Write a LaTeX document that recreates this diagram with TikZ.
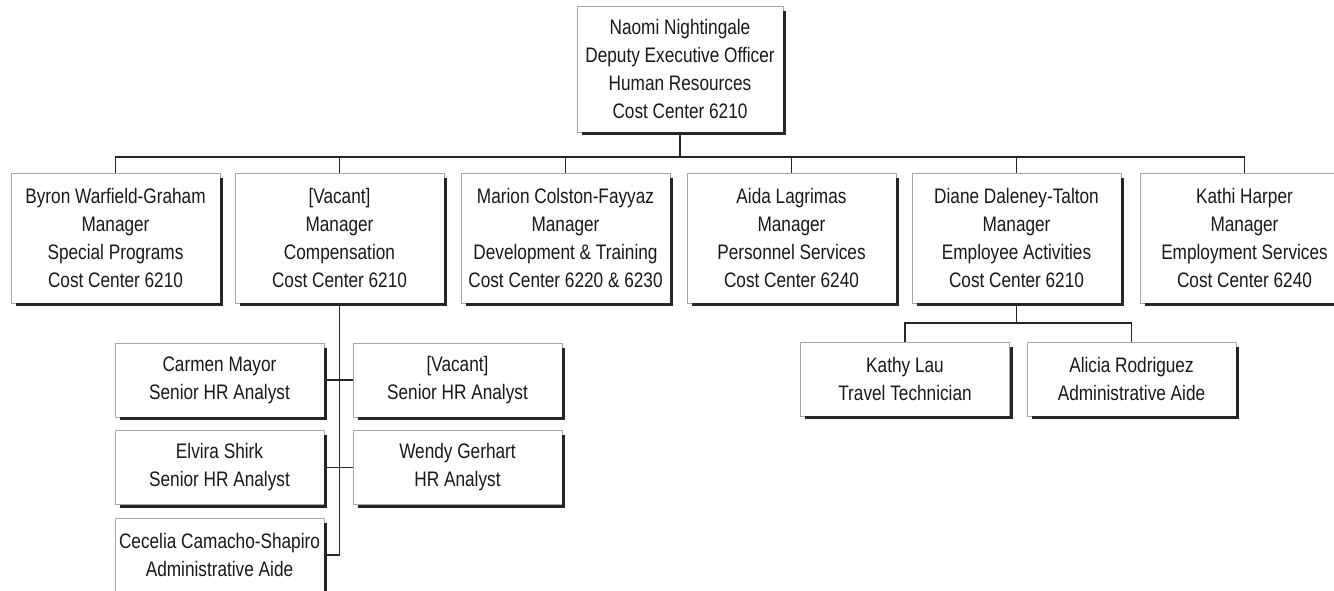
\documentclass[tikz,border=0pt]{standalone}
\usepackage{fontspec}
\setmainfont{Liberation Sans}[FakeStretch=0.82]
\newcommand\boxshadow[1]{\draw[shade] ([xshift=1.5pt,yshift=-5pt]#1.north east) -- ([xshift=1.5pt,yshift=-1.5pt]#1.south east) -- ([xshift=5pt,yshift=-1.5pt]#1.south west);}
\tikzset{
  box/.style={draw=black!35, line width=0.6pt, fill=white, align=center, inner sep=0pt,
    minimum width=209pt, font=\fontsize{21}{28}\selectfont, text=black!90},
  topbox/.style={box, minimum width=206pt, minimum height=126pt},
  mgr/.style={box, minimum height=130pt},
  sub/.style={box, minimum height=74pt},
  link/.style={draw=black!85, line width=1.5pt},
  shade/.style={draw=black!85, line width=3pt},
}
\begin{document}
\begin{tikzpicture}[x=1pt,y=-1pt]
\useasboundingbox (0,0) rectangle (1334,590);
\clip (0,0) rectangle (1334,590);
\fill[white] (0,0) rectangle (1334,590);

\node[topbox] (top) at (680,69) {Naomi Nightingale\\Deputy Executive Officer\\Human Resources\\Cost Center 6210};

\node[mgr] (b1) at (115.5,238) {Byron Warfield-Graham\\Manager\\Special Programs\\Cost Center 6210};
\node[mgr] (b2) at (339.5,238) {[Vacant]\\Manager\\Compensation\\Cost Center 6210};
\node[mgr] (b3) at (565.5,238) {Marion Colston-Fayyaz\\Manager\\Development \& Training\\Cost Center 6220 \& 6230};
\node[mgr] (b4) at (791.5,238) {Aida Lagrimas\\Manager\\Personnel Services\\Cost Center 6240};
\node[mgr] (b5) at (1016.5,238) {Diane Daleney-Talton\\Manager\\Employee Activities\\Cost Center 6210};
\node[mgr] (b6) at (1244.5,238) {Kathi Harper\\Manager\\Employment Services\\Cost Center 6240};

\node[sub] (carmen) at (219.5,380) {Carmen Mayor\\Senior HR Analyst};
\node[sub] (vacsr) at (457.5,380) {[Vacant]\\Senior HR Analyst};
\node[sub] (elvira) at (219.5,467.5) {Elvira Shirk\\Senior HR Analyst};
\node[sub] (wendy) at (457.5,467.5) {Wendy Gerhart\\HR Analyst};
\node[sub] (cecelia) at (219.5,555) {Cecelia Camacho-Shapiro\\Administrative Aide};

\node[sub] (kathy) at (905,379) {Kathy Lau\\Travel Technician};
\node[sub] (alicia) at (1131.5,379) {Alicia Rodriguez\\Administrative Aide};

\foreach \n in {top,b1,b2,b3,b4,b5,b6,carmen,vacsr,elvira,wendy,cecelia,kathy,alicia}{\boxshadow{\n}}

% connectors
\coordinate (bus) at (680,157);
\coordinate (eb) at (1018,323);
\draw[link] (top.south) -- (bus);
\foreach \n in {b1,b2,b3,b4,b5,b6}{\draw[link] (bus) -| (\n.north);}
\draw[link] (b2.south) |- (cecelia.east);
\draw[link] (carmen.east) -- (vacsr.west);
\draw[link] (elvira.east) -- (wendy.west);
\draw[link] (b5.south) -- (b5.south |- eb);
\draw[link] (kathy.north) |- (eb) -| (alicia.north);
\end{tikzpicture}
\end{document}
